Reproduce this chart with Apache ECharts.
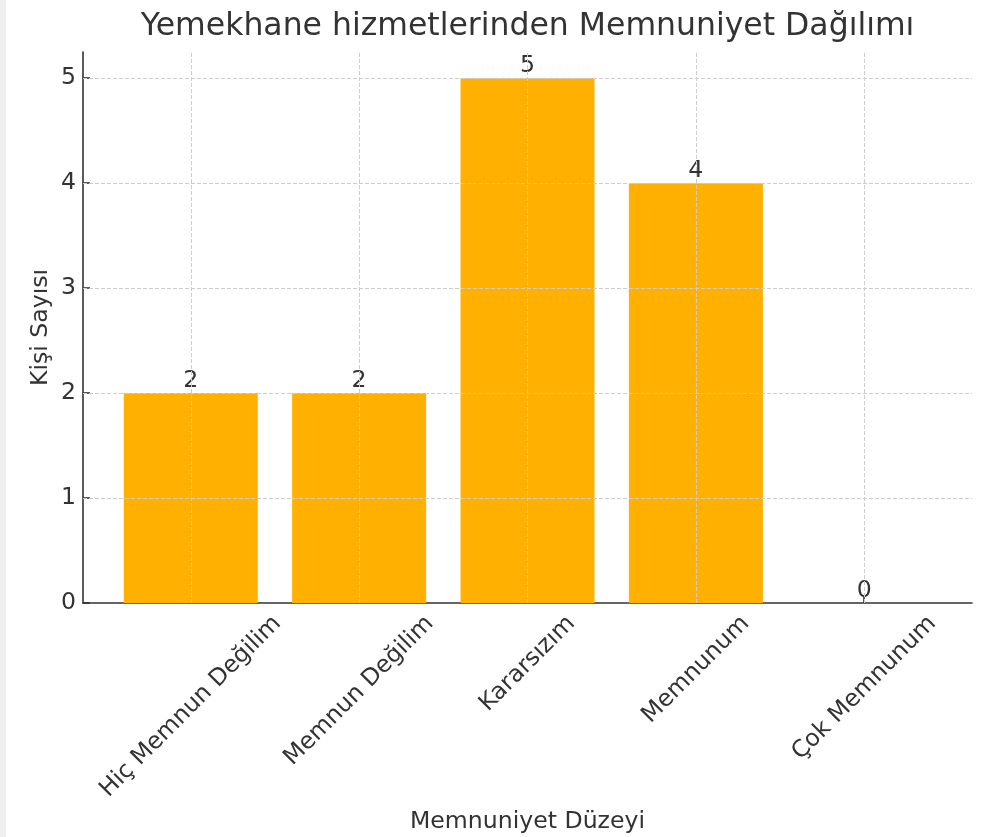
<!DOCTYPE html>
<html>
<head>
<meta charset="utf-8">
<script src="https://cdn.jsdelivr.net/npm/echarts@6/dist/echarts.min.js"></script>
<style>
  html, body { margin: 0; padding: 0; background: #f0f0f0; }
  #main { position: absolute; left: 6px; top: 0; width: 991px; height: 837px; background: #ffffff; }
</style>
</head>
<body>
<div id="main"></div>
<script>
// ---- data ----
const titleText = 'Yemekhane hizmetlerinden Memnuniyet Dağılımı';
const xAxisTitle = 'Memnuniyet Düzeyi';
const yAxisTitle = 'Kişi Sayısı';
const categories = ['Hiç Memnun Değilim', 'Memnun Değilim', 'Kararsızım', 'Memnunum', 'Çok Memnunum'];
const counts = [2, 2, 5, 4, 0];
const yTicks = [0, 1, 2, 3, 4, 5];
const xTicks = categories.map((_, i) => i);

// ---- style ----
const FONT = '"DejaVu Sans", "Noto Sans", sans-serif';
const TXT = '#333333';
const FS = 23.6;
const LH = 28;
const X_MIN = -0.64, X_MAX = 4.64;

// measure label widths so each rotated label is centred under its tick (matplotlib style)
const cv = document.createElement('canvas').getContext('2d');
cv.font = FS + 'px ' + FONT;

const chart = echarts.init(document.getElementById('main'), null, { renderer: 'canvas' });
const gridLine = { type: [4, 2], color: '#cccccc', width: 1 };
const axisStroke = { color: '#333333', width: 1.6 };

const mainX = {
  type: 'value',
  min: X_MIN,
  max: X_MAX,
  position: 'bottom',
  name: xAxisTitle,
  nameLocation: 'middle',
  nameGap: 207,
  nameMoveOverlap: false,
  nameTextStyle: { fontFamily: FONT, fontSize: FS, color: TXT },
  axisLine: { show: true, onZero: false, lineStyle: axisStroke },
  axisTick: { show: true, inside: true, length: 7, customValues: xTicks, lineStyle: axisStroke },
  axisLabel: { show: false },
  splitLine: { show: false }
};

const labelAxes = categories.map((c, i) => {
  const w = cv.measureText(c).width;
  return {
    type: 'value',
    min: X_MIN,
    max: X_MAX,
    position: 'bottom',
    offset: 0,
    axisLine: { show: false, onZero: false },
    axisTick: { show: false },
    splitLine: { show: false },
    axisLabel: {
      show: true,
      customValues: [xTicks[i]],
      rotate: 45,
      align: 'center',
      verticalAlign: 'middle',
      margin: 7 + (w + LH) * 0.3536,
      hideOverlap: false,
      fontFamily: FONT, fontSize: FS, color: TXT, lineHeight: LH,
      formatter: () => c
    }
  };
});

chart.setOption({
  animation: false,
  backgroundColor: '#ffffff',
  textStyle: { fontFamily: FONT },
  title: {
    text: titleText,
    left: 521.5,
    top: 11,
    padding: 0,
    textAlign: 'center',
    textStyle: { fontFamily: FONT, fontSize: 31.5, fontWeight: 'normal', color: TXT }
  },
  grid: { left: 77, right: 25, top: 52, bottom: 234, containLabel: false, outerBoundsMode: 'none' },
  xAxis: [mainX].concat(labelAxes),
  yAxis: {
    type: 'value',
    min: 0,
    max: 5.25,
    interval: 1,
    name: yAxisTitle,
    nameLocation: 'middle',
    nameRotate: 90,
    nameGap: 30,
    nameMoveOverlap: false,
    nameTextStyle: { fontFamily: FONT, fontSize: FS, color: TXT },
    axisLine: { show: true, onZero: false, lineStyle: axisStroke },
    axisTick: { show: true, inside: true, length: 7, customValues: yTicks, lineStyle: axisStroke },
    axisLabel: { show: true, customValues: yTicks, margin: 7, fontFamily: FONT, fontSize: FS, color: TXT },
    splitLine: { show: false }
  },
  series: [{
    type: 'bar',
    xAxisIndex: 0,
    data: counts.map((v, i) => [xTicks[i], v]),
    barWidth: 134,
    clip: false,
    itemStyle: { color: '#ffb000' },
    label: {
      show: true, position: 'top', distance: 0,
      fontFamily: FONT, fontSize: FS, color: TXT,
      formatter: (p) => String(p.value[1])
    },
    markLine: {
      silent: true,
      symbol: 'none',
      label: { show: false },
      lineStyle: gridLine,
      animation: false,
      data: yTicks.filter(v => v > 0).map(v => ({ yAxis: v }))
        .concat(xTicks.map(v => ({ xAxis: v })))
    }
  }]
});
</script>
</body>
</html>
